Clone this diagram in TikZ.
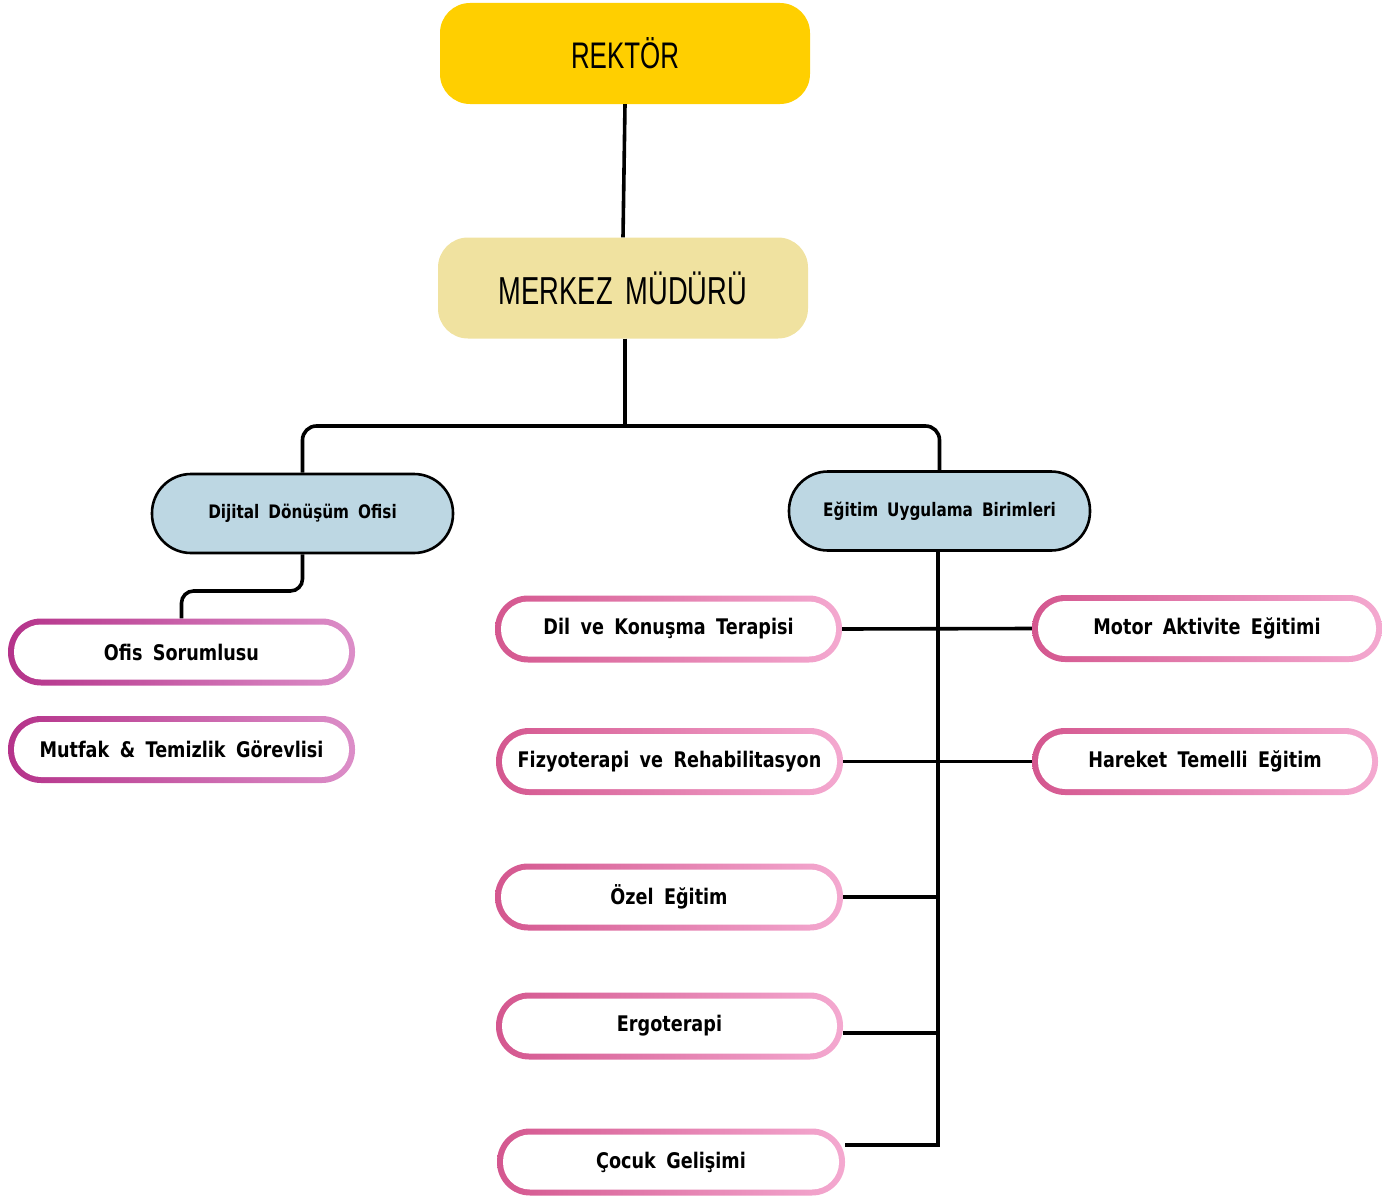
\documentclass[tikz,border=0pt]{standalone}
\usepackage{fontspec}
\newfontfamily\boxfont[FakeStretch=0.82,WordSpace=1.7]{DejaVu Sans}
\newfontfamily\headfont[FakeStretch=0.7]{Liberation Sans}
\definecolor{rekY}{HTML}{FFCF00}
\definecolor{merY}{HTML}{F0E2A0}
\definecolor{bluF}{HTML}{BDD7E3}
\definecolor{pkA}{HTML}{D4578F}
\definecolor{pkB}{HTML}{F07EB4}
\definecolor{pkC}{HTML}{F4A9D0}
\definecolor{mgA}{HTML}{B5338A}
\definecolor{mgB}{HTML}{D45AA4}
\definecolor{mgC}{HTML}{DC8EC8}
\tikzset{
  conn/.style={line width=3.6pt, draw=black},
  headbox/.style={rectangle, rounded corners=30pt, minimum width=370pt, minimum height=101pt, inner sep=0pt, font=\headfont\fontsize{37}{40}\selectfont},
  bluebox/.style={rectangle, rounded corners=39pt, minimum width=301pt, minimum height=79pt, inner sep=0pt, fill=bluF, draw=black, line width=2.6pt, font=\boxfont\bfseries\fontsize{18.6}{21}\selectfont},
  pillbase/.style={rectangle, rounded corners=33pt, minimum height=67pt, inner sep=0pt, font=\boxfont\bfseries\fontsize{21.5}{24}\selectfont,
    path picture={\fill[white, rounded corners=27pt] ([shift={(6pt,-6pt)}]path picture bounding box.north west) rectangle ([shift={(-6pt,6pt)}]path picture bounding box.south east);}},
  pinkbox/.style={pillbase, left color=pkA, middle color=pkB, right color=pkC},
  magbox/.style={pillbase, left color=mgA, middle color=mgB, right color=mgC},
}
\begin{document}
\begin{tikzpicture}[x=1pt,y=-1pt]
\useasboundingbox (0,0) rectangle (1382,1199);
% top boxes
\node[headbox, fill=rekY] (rektor) at (625,53.5) {REKTÖR};
\node[headbox, fill=merY, font=\headfont\fontsize{39}{42}\selectfont] (merkez) at (623,288) {MERKEZ\,\,MÜDÜRÜ};
% second level
\node[bluebox] (dijital) at (302.5,513.5) {Dijital Dönüşüm Ofisi};
\node[bluebox] (egitim) at (939.5,511) {Eğitim Uygulama Birimleri};
% left column
\node[magbox, minimum width=347pt] (ofis) at (181.5,652) {Ofis Sorumlusu};
\node[magbox, minimum width=347pt] (mutfak) at (181.5,749.5) {Mutfak \& Temizlik Görevlisi};
% middle column
\node[pinkbox, minimum width=347pt] (dil) at (668.5,629) {Dil ve Konuşma Terapisi};
\node[pinkbox, minimum width=347pt] (fizyo) at (669.5,761.5) {Fizyoterapi ve Rehabilitasyon};
\node[pinkbox, minimum width=348pt] (ozel) at (669,897) {Özel Eğitim};
\node[pinkbox, minimum width=347pt] (ergo) at (669.5,1026) {Ergoterapi};
\node[pinkbox, minimum width=348pt] (cocuk) at (671,1162) {Çocuk Gelişimi};
% right column
\node[pinkbox, minimum width=350pt] (motor) at (1207,628.5) {Motor Aktivite Eğitimi};
\node[pinkbox, minimum width=346pt] (hareket) at (1205,761.5) {Hareket Temelli Eğitim};
% connectors
\coordinate (bus) at (625,426);
\coordinate (jog) at (241,591);
\coordinate (vbot) at (938,1145);
\draw[conn] (rektor.south) -- (merkez.north);
\draw[conn] (bus |- merkez.south) -- (bus);
\draw[conn, rounded corners=14pt] (dijital.north) |- (bus) -| (egitim.north);
\draw[conn, rounded corners=12pt] (dijital.south) |- (jog) -| (ofis.north);
\draw[conn] (vbot |- egitim.south) -- ([yshift=-1.8pt]vbot);
\draw[conn] (dil.east) -- (motor.west);
\draw[conn] (fizyo.east) -- (hareket.west);
\draw[conn] (ozel.east) -- (ozel.east -| vbot);
\draw[conn] ([yshift=-7pt]ergo.east) -- ([yshift=-7pt]ergo.east -| vbot);
\draw[conn] ([yshift=17pt]cocuk.east) -- (vbot);
\end{tikzpicture}
\end{document}
